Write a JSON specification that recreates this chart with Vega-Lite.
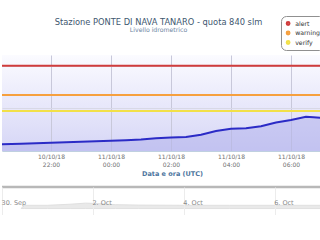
{
  "$schema": "https://vega.github.io/schema/vega-lite/v6.json",
  "padding": {"left": 0, "top": 15, "right": 0, "bottom": 0},
  "background": "white",
  "spacing": 8,
  "config": {"font": "DejaVu Sans", "view": {"stroke": null}},
  "datasets": {
    "livello": [
      {"t": "2018-10-10T20:00:00Z", "livello": 0.12},
      {"t": "2018-10-10T21:00:00Z", "livello": 0.137},
      {"t": "2018-10-10T22:00:00Z", "livello": 0.156},
      {"t": "2018-10-10T23:00:00Z", "livello": 0.174},
      {"t": "2018-10-11T00:00:00Z", "livello": 0.191},
      {"t": "2018-10-11T00:30:00Z", "livello": 0.2},
      {"t": "2018-10-11T01:00:00Z", "livello": 0.215},
      {"t": "2018-10-11T01:30:00Z", "livello": 0.238},
      {"t": "2018-10-11T02:00:00Z", "livello": 0.255},
      {"t": "2018-10-11T02:30:00Z", "livello": 0.263},
      {"t": "2018-10-11T03:00:00Z", "livello": 0.304},
      {"t": "2018-10-11T03:30:00Z", "livello": 0.375},
      {"t": "2018-10-11T04:00:00Z", "livello": 0.418},
      {"t": "2018-10-11T04:30:00Z", "livello": 0.426},
      {"t": "2018-10-11T05:00:00Z", "livello": 0.465},
      {"t": "2018-10-11T05:30:00Z", "livello": 0.534},
      {"t": "2018-10-11T06:00:00Z", "livello": 0.581},
      {"t": "2018-10-11T06:30:00Z", "livello": 0.643},
      {"t": "2018-10-11T06:45:00Z", "livello": 0.632},
      {"t": "2018-10-11T07:00:00Z", "livello": 0.623},
      {"t": "2018-10-11T07:15:00Z", "livello": 0.62}
    ],
    "soglie": [
      {"soglia": "alert", "valore": 1.6},
      {"soglia": "warning", "valore": 1.05},
      {"soglia": "verify", "valore": 0.75}
    ],
    "navigatore": [
      {"t": "2018-09-30T10:00:00Z", "v": 0.0},
      {"t": "2018-09-30T12:00:00Z", "v": 0.15},
      {"t": "2018-10-01T00:00:00Z", "v": 0.15},
      {"t": "2018-10-01T12:00:00Z", "v": 0.2},
      {"t": "2018-10-01T20:00:00Z", "v": 0.25},
      {"t": "2018-10-02T00:00:00Z", "v": 0.24},
      {"t": "2018-10-02T12:00:00Z", "v": 0.18},
      {"t": "2018-10-03T00:00:00Z", "v": 0.16},
      {"t": "2018-10-04T00:00:00Z", "v": 0.15},
      {"t": "2018-10-05T00:00:00Z", "v": 0.15},
      {"t": "2018-10-06T00:00:00Z", "v": 0.15},
      {"t": "2018-10-07T00:00:00Z", "v": 0.15},
      {"t": "2018-10-07T12:00:00Z", "v": 0.15}
    ],
    "bordo": [
      {"v": 1}
    ]
  },
  "vconcat": [
    {
      "width": 320,
      "height": 96,
      "title": {
        "text": "Stazione PONTE DI NAVA TANARO - quota 840 slm",
        "subtitle": "Livello idrometrico",
        "fontSize": 8.3,
        "fontWeight": "normal",
        "color": "#3e576f",
        "subtitleFontSize": 6.2,
        "subtitleColor": "#6d869f",
        "subtitlePadding": 1,
        "anchor": "middle",
        "dx": -3.5,
        "offset": 22
      },
      "view": {
        "stroke": null,
        "fill": {
          "gradient": "linear", "x1": 0, "y1": 0, "x2": 0, "y2": 1,
          "stops": [{"offset": 0, "color": "#fbfbff"}, {"offset": 1, "color": "#d6d6f6"}]
        }
      },
      "layer": [
        {
          "data": {"name": "livello"},
          "mark": {
            "type": "area", "clip": true, "fill": "#b0b0ec", "fillOpacity": 0.5,
            "line": {"stroke": "#2b2bc6", "strokeWidth": 2}
          },
          "encoding": {
            "x": {
              "field": "t", "type": "temporal",
              "scale": {
                "type": "utc",
                "domain": [
                  {"year": 2018, "month": 10, "date": 10, "hours": 20, "minutes": 22, "utc": true},
                  {"year": 2018, "month": 10, "date": 11, "hours": 7, "minutes": 2, "utc": true}
                ]
              },
              "axis": {
                "values": [
                  {"year": 2018, "month": 10, "date": 10, "hours": 22, "utc": true},
                  {"year": 2018, "month": 10, "date": 11, "hours": 0, "utc": true},
                  {"year": 2018, "month": 10, "date": 11, "hours": 2, "utc": true},
                  {"year": 2018, "month": 10, "date": 11, "hours": 4, "utc": true},
                  {"year": 2018, "month": 10, "date": 11, "hours": 6, "utc": true}
                ],
                "labelExpr": "[utcFormat(datum.value, '%d/%m/%y'), utcFormat(datum.value, '%H:%M')]",
                "labelFontSize": 6,
                "labelColor": "#707070",
                "labelLineHeight": 8.5,
                "labelPadding": 2,
                "labelFlush": false,
                "labelOverlap": false,
                "ticks": false,
                "grid": true,
                "gridColor": "#c8c8da",
                "domainColor": "#c0d0e0",
                "title": "Data e ora (UTC)",
                "titleFontSize": 6.5,
                "titleFontWeight": "bold",
                "titleColor": "#4d759e",
                "titlePadding": 3,
                "titleX": 170
              }
            },
            "y": {
              "field": "livello", "type": "quantitative",
              "scale": {"domain": [0, 1.8], "nice": false},
              "axis": {
                "values": [0, 0.2, 0.4, 0.6, 0.8, 1.0, 1.2, 1.4, 1.6, 1.8],
                "labels": false, "ticks": false, "domain": false, "title": null,
                "grid": true, "gridColor": "#d8d8e6"
              }
            }
          }
        },
        {
          "data": {"name": "soglie"},
          "mark": {"type": "rule", "strokeWidth": 2, "clip": true},
          "encoding": {
            "y": {"field": "valore", "type": "quantitative"},
            "color": {
              "field": "soglia", "type": "nominal",
              "scale": {"domain": ["alert", "warning", "verify"], "range": ["#d03c3c", "#f6a03e", "#f2e048"]},
              "legend": {
                "title": null,
                "orient": "none",
                "legendX": 279,
                "legendY": -39,
                "symbolType": "circle",
                "symbolSize": 5,
                "symbolStrokeWidth": 2.6,
                "labelFontSize": 6.2,
                "labelColor": "#333333",
                "labelOffset": 4,
                "rowPadding": 2.5,
                "clipHeight": 7,
                "padding": 4,
                "strokeColor": "#909090",
                "cornerRadius": 5,
                "fillColor": "white"
              }
            }
          }
        }
      ]
    },
    {
      "width": 320,
      "height": 28,
      "layer": [
        {
          "data": {"name": "navigatore"},
          "mark": {"type": "area", "clip": true, "fill": "#e9e9e9", "stroke": "#e0e0e0", "strokeWidth": 1},
          "encoding": {
            "x": {
              "field": "t", "type": "temporal",
              "scale": {
                "type": "utc",
                "domain": [
                  {"year": 2018, "month": 9, "date": 30, "hours": 0, "utc": true},
                  {"year": 2018, "month": 10, "date": 7, "hours": 1, "utc": true}
                ]
              },
              "axis": {
                "values": [
                  {"year": 2018, "month": 9, "date": 30, "utc": true},
                  {"year": 2018, "month": 10, "date": 2, "utc": true},
                  {"year": 2018, "month": 10, "date": 4, "utc": true},
                  {"year": 2018, "month": 10, "date": 6, "utc": true}
                ],
                "labelExpr": "utcFormat(datum.value, '%-d. %b')",
                "labelAlign": "left",
                "labelBaseline": "top",
                "labelOffset": -1,
                "labelPadding": -16,
                "labelFontSize": 6.5,
                "labelColor": "#888888",
                "labelFlush": false,
                "labelOverlap": false,
                "labelBound": false,
                "ticks": false,
                "grid": true,
                "gridColor": "#ececec",
                "domainColor": "#d8d8d8",
                "zindex": 1,
                "title": null
              }
            },
            "y": {
              "field": "v", "type": "quantitative",
              "scale": {"domain": [-0.3, 1], "nice": false, "zero": false},
              "axis": null
            }
          }
        },
        {
          "data": {"name": "bordo"},
          "mark": {"type": "rule", "stroke": "#b8b8b8", "strokeWidth": 2.5},
          "encoding": {"y": {"field": "v", "type": "quantitative"}}
        }
      ]
    }
  ]
}
